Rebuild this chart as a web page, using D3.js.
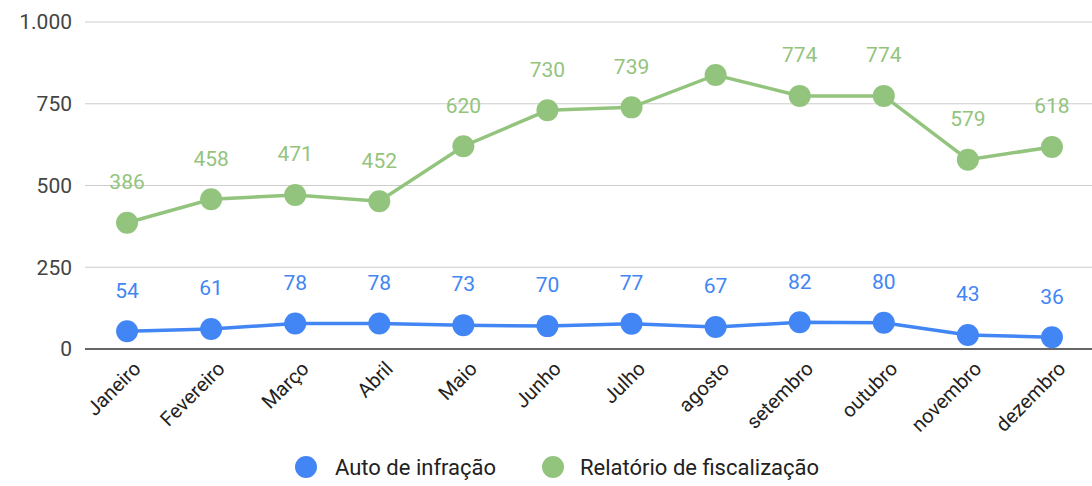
<!DOCTYPE html>
<html><head><meta charset="utf-8">
<script src="https://cdn.jsdelivr.net/npm/d3@7"></script>
<style>body{margin:0;background:#fff;}svg{display:block;font-family:Roboto,Arial,sans-serif;}</style>
</head><body>
<svg id="c" width="1092" height="486"></svg>
<script>
const months = ["Janeiro","Fevereiro","Março","Abril","Maio","Junho","Julho","agosto","setembro","outubro","novembro","dezembro"];
const autoInfracao = [54,61,78,78,73,70,77,67,82,80,43,36];
const relatorio = [386,458,471,452,620,730,739,838,774,774,579,618];
const relatorioLabelShown = [true,true,true,true,true,true,true,false,true,true,true,true];
const yTicks = [0,250,500,750,1000];
const seriesNames = ["Auto de infração","Relatório de fiscalização"];
const colors = ["#4285F4","#93C47D"];

const svg = d3.select("#c");
const x = d3.scaleBand().domain(months).range([85,1094]);
const y = d3.scaleLinear().domain([0,1000]).range([349,22]);
const fmt = v => d3.format(",")(v).replace(/,/g,".");

svg.append("g").selectAll("line").data(yTicks.filter(d=>d>0)).join("line")
  .attr("x1",85).attr("x2",1092).attr("y1",d=>y(d)).attr("y2",d=>y(d))
  .attr("stroke","#cccccc").attr("stroke-width",1);
svg.append("g").selectAll("text").data(yTicks).join("text")
  .attr("x",72).attr("y",d=>y(d)).attr("dy","0.35em").attr("text-anchor","end")
  .attr("font-size",21).attr("fill","#444").text(fmt);
svg.append("line").attr("x1",85).attr("x2",1092).attr("y1",y(0)).attr("y2",y(0))
  .attr("stroke","#333").attr("stroke-width",1.5);

const cx = d => x(d)+x.bandwidth()/2;
svg.append("g").selectAll("text").data(months).join("text")
  .attr("transform",d=>`translate(${cx(d)+10},${y(0)+16}) rotate(-45)`)
  .attr("text-anchor","end").attr("dy","0.35em").attr("font-size",20).attr("fill","#222").text(d=>d);

const series = [autoInfracao, relatorio];
series.forEach((vals,i)=>{
  const pts = months.map((m,j)=>({m,v:vals[j],j}));
  svg.append("path").datum(pts).attr("fill","none").attr("stroke",colors[i]).attr("stroke-width",3.5)
    .attr("d",d3.line().x(d=>cx(d.m)).y(d=>y(d.v)));
  svg.append("g").selectAll("circle").data(pts).join("circle")
    .attr("cx",d=>cx(d.m)).attr("cy",d=>y(d.v)).attr("r",11).attr("fill",colors[i]);
  svg.append("g").selectAll("text").data(pts.filter(d=> i===0 || relatorioLabelShown[d.j])).join("text")
    .attr("x",d=>cx(d.m)).attr("y",d=>y(d.v)-41).attr("dy","0.35em").attr("text-anchor","middle")
    .attr("font-size",21).attr("fill",colors[i]).text(d=>d.v);
});

const leg = [{x:306,tx:335},{x:553,tx:580}];
seriesNames.forEach((n,i)=>{
  svg.append("circle").attr("cx",leg[i].x).attr("cy",467).attr("r",11).attr("fill",colors[i]);
  svg.append("text").attr("x",leg[i].tx).attr("y",467).attr("dy","0.35em").attr("font-size",22).attr("fill","#222").text(n);
});
</script>
</body></html>
